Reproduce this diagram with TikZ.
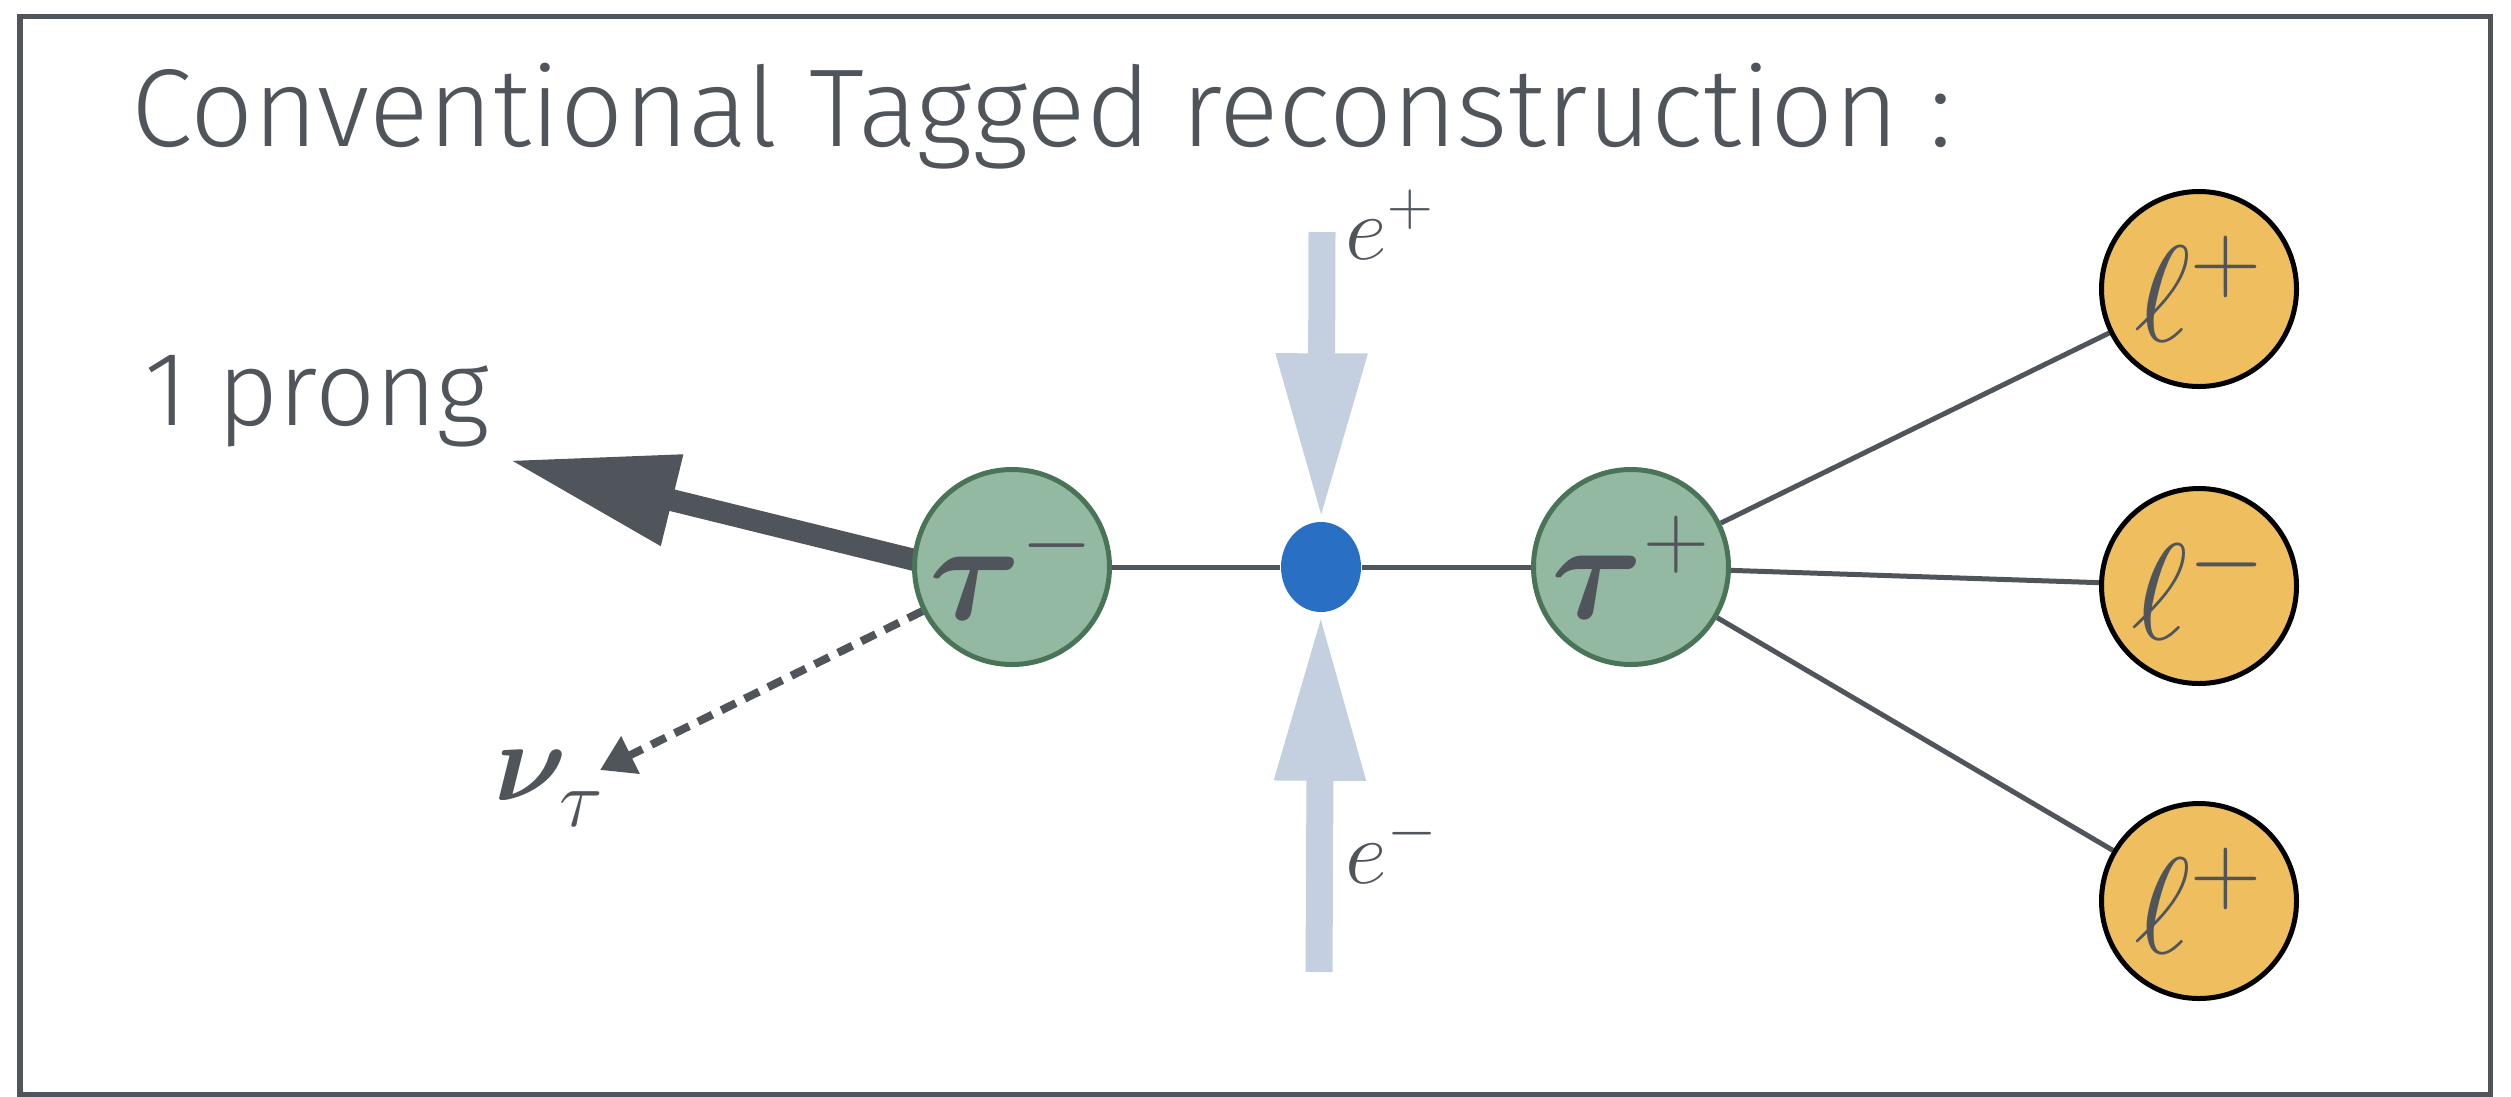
\RequirePackage{fix-cm}
\documentclass[tikz,border=0pt]{standalone}
\usepackage[no-math]{fontspec}
\setmainfont{Fira Sans Light}
\usepackage{bm}
\usetikzlibrary{arrows.meta,backgrounds,shapes.geometric}

\definecolor{inkgray}{HTML}{50555C}
\definecolor{taufill}{HTML}{94B9A2}
\definecolor{tauedge}{HTML}{4A7458}
\definecolor{lepfill}{HTML}{EFBE5F}
\definecolor{vtxblue}{HTML}{2970C4}
\definecolor{beamblue}{HTML}{C4D0E0}

% small sign set at a size of its own
\newcommand{\supsym}[2]{\mbox{\fontsize{#1}{#1}\selectfont$#2$}}

\tikzset{
	taunode/.style={circle, draw=tauedge, fill=taufill, line width=0.05cm, minimum size=1.95cm, inner sep=0pt, text=inkgray},
	lepnode/.style={circle, draw=black, fill=lepfill, line width=0.05cm, minimum size=1.95cm, inner sep=0pt, text=inkgray},
	vertex/.style={ellipse, fill=vtxblue, minimum width=0.8cm, minimum height=0.9cm, inner sep=0pt},
	conn/.style={draw=inkgray, line width=0.05cm},
	beam/.style={draw=beamblue, line width=0.27cm, -{Triangle[length=1.68cm, width=0.84cm]}},
	prong/.style={draw=inkgray, line width=0.22cm, -{Triangle[length=1.68cm, width=0.88cm]}},
	nuline/.style={draw=inkgray, line width=0.08cm, dash pattern=on 0.16cm off 0.10cm, -{Triangle[length=0.34cm, width=0.40cm]}},
	lbl/.style={inner sep=0pt, text=inkgray}
}

\begin{document}
\begin{tikzpicture}
	\useasboundingbox (0,0) rectangle (25.11,-10.96);
	\draw[inkgray, line width=0.05cm] (0.20,-0.16) rectangle (24.90,-10.94);
	
	\node[lbl, anchor=base west] (title) at (1.31,-1.46) {\fontsize{31.5}{31.5}\selectfont Conventional Tagged reconstruction :};
	\node[lbl, anchor=base west] (prongtxt) at (1.44,-4.25) {\fontsize{30}{30}\selectfont 1 prong};
	
	\node[taunode] (taum) at (10.12,-5.67) {\fontsize{40}{40}\selectfont $\bm{\tau}^{\supsym{26}{-}}$};
	\node[taunode] (taup) at (16.31,-5.67) {\fontsize{40}{40}\selectfont $\bm{\tau}^{\supsym{26}{+}}$};
	\node[vertex] (ip) at (13.21,-5.67) {};
	
	\node[lepnode] (lpa) at (21.99,-2.89) {\fontsize{39}{39}\selectfont $\ell^{\supsym{28}{+}}$};
	\node[lepnode] (lmi) at (21.99,-5.86) {\fontsize{39}{39}\selectfont $\ell^{\supsym{28}{-}}$};
	\node[lepnode] (lpb) at (21.99,-9.01) {\fontsize{39}{39}\selectfont $\ell^{\supsym{28}{+}}$};
	
	\coordinate (eptop) at (13.22,-2.32);
	\coordinate (embot) at (13.19,-9.72);
	\coordinate (prongtip) at (5.09,-4.60);
	\coordinate (nutip) at (6.00,-7.70);
	
	\node[lbl, anchor=base west] (eplbl) at (13.45,-2.59) {\fontsize{26}{26}\selectfont $e^{\supsym{18}{+}}$};
	\node[lbl, anchor=base west] (emlbl) at (13.45,-8.83) {\fontsize{26}{26}\selectfont $e^{\supsym{18}{-}}$};
	\node[lbl, anchor=base west] (nulbl) at (4.94,-8.00) {\fontsize{32}{32}\selectfont $\bm{\nu}_{\raisebox{-0.1cm}{\supsym{23}{\tau}}}$};
	
	\begin{scope}[on background layer]
		\draw[conn] (taum) -- (ip);
		\draw[conn] (ip) -- (taup);
		\draw[conn] (taup) -- (lpa);
		\draw[conn] (taup) -- (lmi);
		\draw[conn] (taup) -- (lpb);
		
		\draw[beam] (eptop) -- (ip);
		\draw[beam] (embot) -- (ip);
		
		\draw[prong] ([yshift=-0.17cm]taum.center) -- (prongtip);
	\end{scope}
	\draw[nuline] (taum) -- (nutip);
\end{tikzpicture}
\end{document}
